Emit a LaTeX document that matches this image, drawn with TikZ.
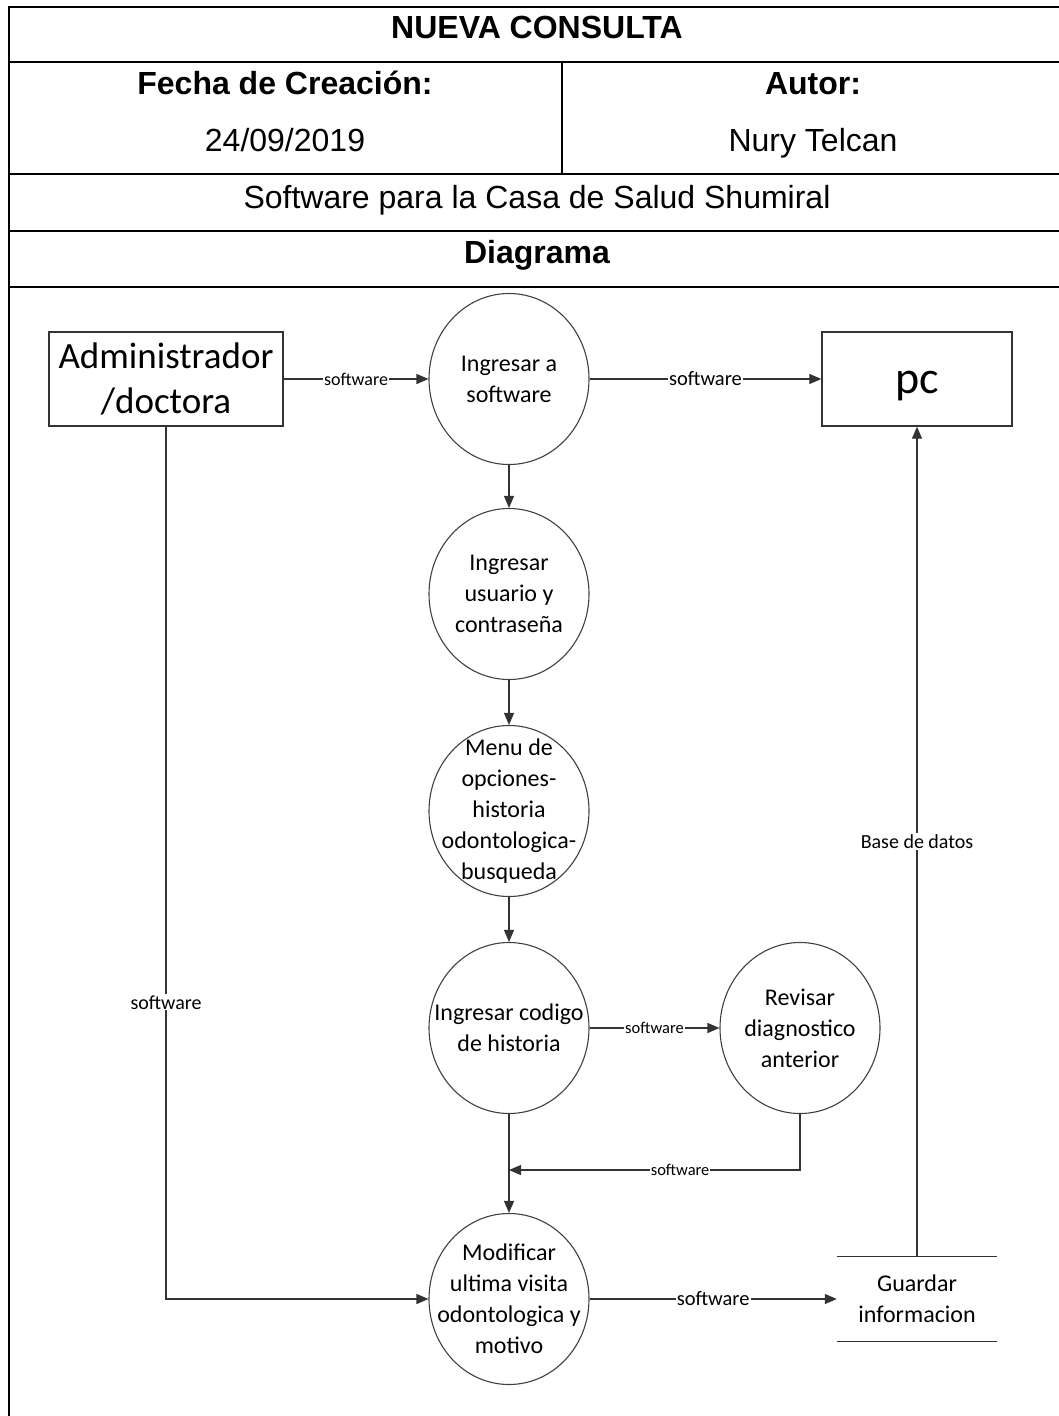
\documentclass[tikz,border=0pt]{standalone}
\usepackage{fontspec}
\setmainfont{Liberation Sans}
\newfontfamily\carlito{Carlito}
\usetikzlibrary{shapes.geometric,arrows.meta}

\begin{document}
\begin{tikzpicture}[x=1pt,y=-1pt,
  frame/.style={line width=2pt,black},
  hdr/.style={anchor=base,inner sep=0pt,font=\fontsize{32}{38}\selectfont},
  proc/.style={ellipse,draw=black!75,line width=1.1pt,minimum width=160pt,minimum height=171pt,inner sep=0pt},
  ptext/.style={align=center,inner sep=0pt,font=\carlito\fontsize{24}{31}\selectfont},
  ent/.style={rectangle,draw=black!80,line width=1.3pt,inner sep=0pt,minimum height=94pt},
  etext/.style={align=center,inner sep=0pt},
  flow/.style={draw=black!80,line width=1.2pt,-{Triangle[length=12pt,width=10pt]}},
  lbl/.style={fill=white,inner sep=1pt,font=\carlito\fontsize{#1}{#1}\selectfont}]

\useasboundingbox (0,0) rectangle (1059,1416);
\clip (0,0) rectangle (1059,1416);

% header table
\draw[frame] (9,1420) -- (9,7) -- (1066,7) -- (1066,1420);
\draw[frame] (9,62) -- (1066,62);
\draw[frame] (9,174) -- (1066,174);
\draw[frame] (9,231) -- (1066,231);
\draw[frame] (9,287) -- (1066,287);
\draw[frame] (562,62) -- (562,174);

\node[hdr] (title) at (537,38) {\bfseries NUEVA CONSULTA};
\node[hdr] (fechaH) at (285,94) {\bfseries Fecha de Creación:};
\node[hdr] (fecha) at (285,151) {24/09/2019};
\node[hdr] (autorH) at (813,94) {\bfseries Autor:};
\node[hdr] (autor) at (813,151) {Nury Telcan};
\node[hdr] (sys) at (537,208) {Software para la Casa de Salud Shumiral};
\node[hdr] (diag) at (537,263) {\bfseries Diagrama};

% external entities
\node[ent,minimum width=234pt] (admin) at (166,379) {};
\node[etext,font=\carlito\fontsize{37}{45}\selectfont] (admint) at (166,379) {Administrador\\/doctora};
\node[ent,minimum width=190pt] (pc) at (917,379) {};
\node[etext,font=\carlito\fontsize{46}{50}\selectfont] (pct) at (917,386) {pc};

% processes
\node[proc] (c1) at (509,379) {};
\node[ptext] (c1t) at (c1) {Ingresar a\\software};
\node[proc] (c2) at (509,594) {};
\node[ptext] (c2t) at (c2) {Ingresar\\usuario y\\contraseña};
\node[proc] (c3) at (509,811) {};
\node[ptext] (c3t) at (c3) {Menu de\\opciones-\\historia\\odontologica-\\busqueda};
\node[proc] (c4) at (509,1028) {};
\node[ptext] (c4t) at (c4) {Ingresar codigo\\de historia};
\node[proc] (c5) at (800,1028) {};
\node[ptext] (c5t) at (c5) {Revisar\\diagnostico\\anterior};
\node[proc] (c6) at (509,1299) {};
\node[ptext] (c6t) at (c6) {Modificar\\ultima visita\\odontologica y\\motivo};

% data store
\node[minimum width=160pt,minimum height=85pt,inner sep=0pt] (store) at (917,1299) {};
\node[ptext] (storet) at (store) {Guardar\\informacion};
\draw[draw=black!80,line width=1.2pt] (store.north west) -- (store.north east);
\draw[draw=black!80,line width=1.2pt] (store.south west) -- (store.south east);

\coordinate (join) at (509,1170);

% flows
\draw[flow] (admin.east) -- (c1.west) node[lbl=18,midway] {software};
\draw[flow] (c1.east) -- (pc.west) node[lbl=20.5,midway] {software};
\draw[flow] (c1.south) -- (c2.north);
\draw[flow] (c2.south) -- (c3.north);
\draw[flow] (c3.south) -- (c4.north);
\draw[flow] (c4.east) -- (c5.west) node[lbl=16.5,midway] {software};
\draw[flow] (c5.south) |- (join) node[lbl=16.5,pos=0.706] {software};
\draw[flow] (c4.south) -- (c6.north);
\draw[flow] (admin.south) |- (c6.west) node[lbl=20,pos=0.33] {software};
\draw[flow] (c6.east) -- (store.west) node[lbl=20.5,midway] {software};
\draw[flow] (store.north) -- (pc.south) node[lbl=20,midway] {Base de datos};

\end{tikzpicture}
\end{document}
